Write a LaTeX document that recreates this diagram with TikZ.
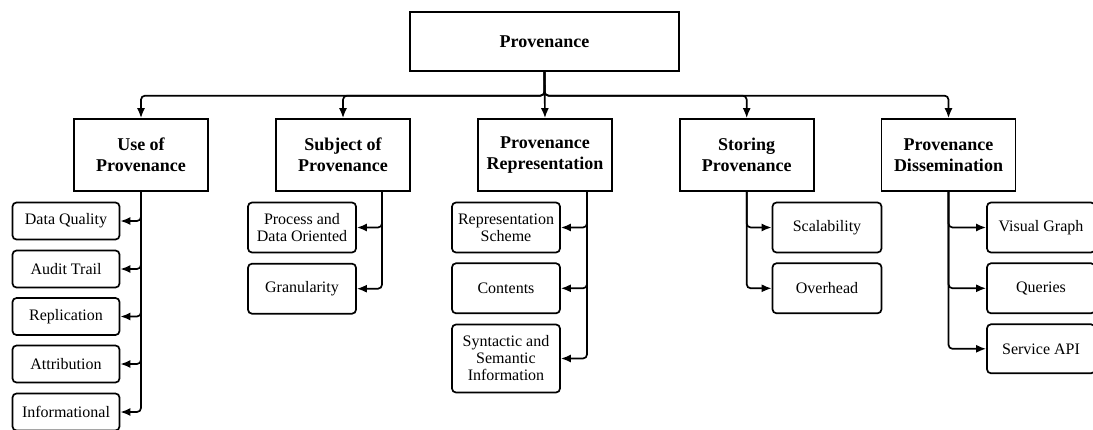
\documentclass[tikz,border=0pt]{standalone}
\usepackage{fontspec}
\setmainfont{Liberation Serif}
\usepackage{tikz}
\usetikzlibrary{arrows.meta}
\tikzset{
	topbox/.style={draw,line width=1.7pt,inner sep=0pt,align=center,minimum width=269pt,minimum height=59pt,font=\fontsize{18}{21}\selectfont\bfseries},
	catbox/.style={draw,line width=1.7pt,inner sep=0pt,align=center,minimum width=134pt,minimum height=72pt,font=\fontsize{18}{21}\selectfont\bfseries},
	leafbox/.style={draw,line width=1.7pt,rounded corners=4pt,inner sep=0pt,align=center,minimum width=108pt,minimum height=50pt,font=\fontsize{16}{17}\selectfont},
	shortbox/.style={leafbox,minimum height=37pt},
	conn/.style={line width=1.7pt,rounded corners=4pt,-{Latex[length=10pt,width=8pt]}},
}
\begin{document}
\begin{tikzpicture}[x=1pt,y=-1pt]
\useasboundingbox (0,0) rectangle (1093,429);

\node[topbox] (root) at (544.5,41.3) {Provenance};

\node[catbox] (use) at (141,155) {Use of\\Provenance};
\node[catbox] (subj) at (343,155) {Subject of\\Provenance};
\node[catbox] (repr) at (545,155) {Provenance\\Representation};
\node[catbox] (stor) at (746.7,155) {Storing\\Provenance};
\node[catbox] (diss) at (948.5,155) {Provenance\\Dissemination};

% use of provenance
\node[shortbox,minimum width=107pt] (dq) at (66,221) {Data Quality};
\node[shortbox,minimum width=107pt] (audit) at (66,269) {Audit Trail};
\node[shortbox,minimum width=107pt] (repl) at (66,316.5) {Replication};
\node[shortbox,minimum width=107pt] (attr) at (66,364) {Attribution};
\node[shortbox,minimum width=107pt] (info) at (66,412) {Informational};

% subject of provenance
\coordinate (subjout) at (382,191);
\node[leafbox] (pdo) at (302,227.5) {Process and\\Data Oriented};
\node[leafbox] (gran) at (302,288.7) {Granularity};

% representation
\coordinate (reprout) at (587,191);
\node[leafbox] (scheme) at (506,227.5) {Representation\\Scheme};
\node[leafbox] (cont) at (506,288.3) {Contents};
\node[leafbox,minimum height=68pt] (syn) at (506,358.5) {Syntactic and\\Semantic\\Information};

% storing
\node[leafbox,minimum width=109pt] (scal) at (827,227.5) {Scalability};
\node[leafbox,minimum width=109pt] (over) at (827,288.3) {Overhead};

% dissemination
\node[leafbox] (graph) at (1041,227.5) {Visual Graph};
\node[leafbox] (query) at (1041,288.3) {Queries};
\node[leafbox,minimum height=49pt] (api) at (1041,348.8) {Service API};

\foreach \c in {use,subj,stor,diss}
	\draw[conn] (root.south) -- ++(0,24) -| (\c.north);
\draw[conn] (root.south) -- (repr.north);

\foreach \n in {dq,audit,repl,attr,info}
	\draw[conn] (use.south) |- (\n.east);
\foreach \n in {pdo,gran}
	\draw[conn] (subjout) |- (\n.east);
\foreach \n in {scheme,cont,syn}
	\draw[conn] (reprout) |- (\n.east);
\foreach \n in {scal,over}
	\draw[conn] (stor.south) |- (\n.west);
\foreach \n in {graph,query,api}
	\draw[conn] (diss.south) |- (\n.west);
\end{tikzpicture}
\end{document}
